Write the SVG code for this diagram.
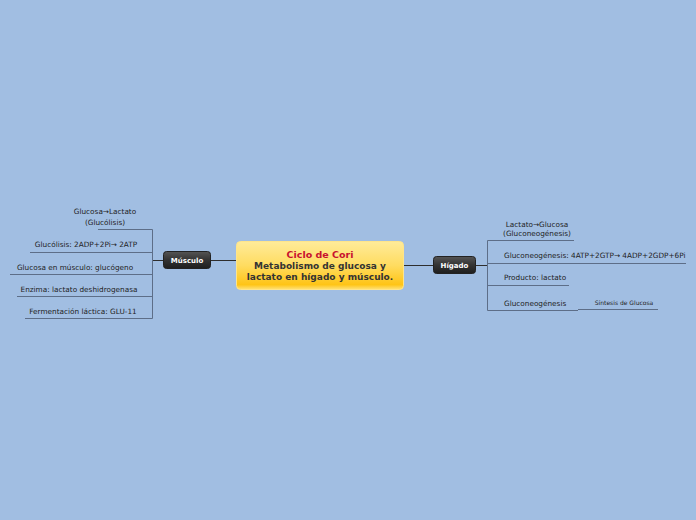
<svg xmlns="http://www.w3.org/2000/svg" width="696" height="520" viewBox="0 0 696 520">
<defs>
<linearGradient id="gc" x1="0" y1="0" x2="0" y2="1">
<stop offset="0" stop-color="#ffeb9a"/>
<stop offset="0.5" stop-color="#ffdc60"/>
<stop offset="0.9" stop-color="#ffc416"/>
<stop offset="1" stop-color="#ffe27a"/>
</linearGradient>
<linearGradient id="gd" x1="0" y1="0" x2="0" y2="1">
<stop offset="0" stop-color="#555"/>
<stop offset="0.5" stop-color="#333"/>
<stop offset="1" stop-color="#1e1e1e"/>
</linearGradient>
</defs>
<style>
text{font-family:"DejaVu Sans",Verdana,sans-serif;}
.t{font-size:7.3px;fill:#222;}
.s{font-size:6px;fill:#222;}
.n{font-size:7px;font-weight:bold;fill:#fff;}
.ul{stroke:#5d6e88;stroke-width:1;fill:none;}
.c{stroke:#2e2e2e;stroke-width:1;fill:none;}
</style>
<rect width="696" height="520" fill="#a1bee2"/>
<g id="connectors">
<path class="c" d="M211 260.5H237M403 265.5H433"/>
<path class="c" d="M163 260.5H152.5M476 265.5H487.5"/>
<path class="ul" d="M152.5 229.5V318.5M98 229.5H152.5M30 252.5H152.5M10 274.5H152.5M17 296.5H152.5M25 318.5H152.5"/>
<path class="ul" d="M487.5 240.5V310.5M487.5 240.5H574M487.5 263.5H686M487.5 285.5H569M487.5 310.5H578M578 309.5H658"/>
</g>
<g id="center">
<rect x="236.5" y="241.5" width="167" height="48" rx="4" fill="url(#gc)" stroke="#ffe58a"/>
<text x="320" y="258" text-anchor="middle" style="font-size:9.5px;font-weight:bold;fill:#c8102e">Ciclo de Cori</text>
<text x="320" y="269" text-anchor="middle" style="font-size:9px;font-weight:bold;fill:#333">Metabolismo de glucosa y</text>
<text x="320" y="280" text-anchor="middle" style="font-size:9px;font-weight:bold;fill:#333">lactato en hígado y músculo.</text>
</g>
<g id="musculo">
<rect x="163.5" y="251.5" width="47" height="17" rx="3" fill="url(#gd)" stroke="#222"/>
<text class="n" x="187" y="263" text-anchor="middle">Músculo</text>
</g>
<g id="higado">
<rect x="433.5" y="256.5" width="42" height="17" rx="3" fill="url(#gd)" stroke="#222"/>
<text class="n" x="454.5" y="268" text-anchor="middle">Hígado</text>
</g>
<g id="m1"><text class="t" x="105" y="214" text-anchor="middle">Glucosa→Lactato</text><text class="t" x="105" y="225" text-anchor="middle">(Glucólisis)</text></g>
<g id="m2"><text class="t" x="86" y="247" text-anchor="middle">Glucólisis: 2ADP+2Pi→ 2ATP</text></g>
<g id="m3"><text class="t" x="75" y="270" text-anchor="middle">Glucosa en músculo: glucógeno</text></g>
<g id="m4"><text class="t" x="79" y="292" text-anchor="middle">Enzima: lactato deshidrogenasa</text></g>
<g id="m5"><text class="t" x="83" y="314" text-anchor="middle">Fermentación láctica: GLU-11</text></g>
<g id="h1"><text class="t" x="537" y="227" text-anchor="middle">Lactato→Glucosa</text><text class="t" x="537" y="236" text-anchor="middle">(Gluconeogénesis)</text></g>
<g id="h2"><text class="t" x="504" y="258">Gluconeogénesis: 4ATP+2GTP→ 4ADP+2GDP+6Pi</text></g>
<g id="h3"><text class="t" x="504" y="280">Producto: lactato</text></g>
<g id="h4"><text class="t" x="504" y="306">Gluconeogénesis</text></g>
<g id="h5"><text class="s" x="624" y="305" text-anchor="middle">Síntesis de Glucosa</text></g>
</svg>
